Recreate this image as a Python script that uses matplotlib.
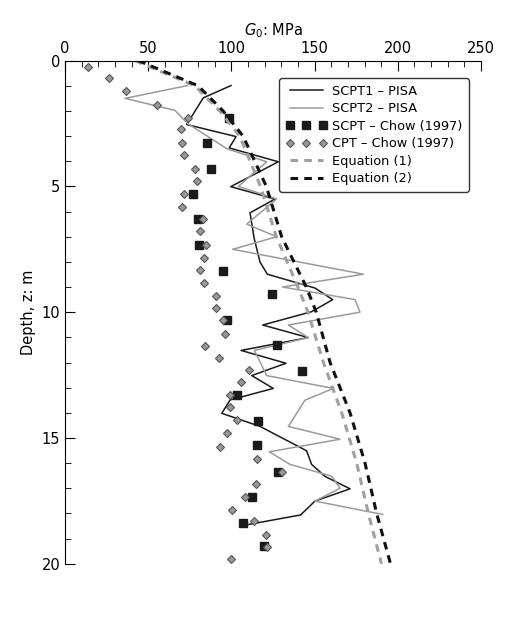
import matplotlib
matplotlib.use("Agg")
import matplotlib.pyplot as plt
from matplotlib.ticker import MultipleLocator

scpt1_g = [99.8, 83.1, 73.1, 102.8, 98.7, 128.2, 99.6, 126.2, 111.2, 113.6, 117.2, 121.6, 150.2, 160.9, 148.2,
           118.8, 146.2, 105.8, 132.8, 112.2, 125.2, 99.2, 94.2, 117.2, 145.2, 148.2, 156.3, 171.3, 150.2, 141.6, 105.2]
scpt1_z = [0.99, 1.48, 2.54, 3.02, 3.47, 4.02, 5.01, 5.5, 6.05, 7.04, 8.01, 8.49, 9.04, 9.5, 9.98,
           10.51, 11.01, 11.52, 12.03, 12.52, 13.03, 13.49, 14.02, 14.54, 15.51, 16.05, 16.53, 17.02, 17.51, 18.06, 18.5]

scpt2_g = [73.7, 36.1, 66.1, 73.7, 97.2, 121.2, 104.2, 127.2, 109.2, 127.2, 100.8, 179.3, 130.8, 174.3, 177.3,
           134.2, 146.2, 113.8, 121.2, 161.3, 144.2, 134.2, 165.3, 122.8, 135.2, 160.3, 165.3, 150.2, 190.9]
scpt2_z = [0.99, 1.5, 1.98, 2.5, 3.5, 4.02, 5.0, 5.5, 6.5, 7.0, 7.5, 8.49, 9.0, 9.5, 10.0,
           10.51, 11.01, 11.52, 12.52, 13.03, 13.5, 14.54, 15.05, 15.55, 16.05, 16.52, 17.0, 17.51, 18.04]

chow_scpt_g = [98.8, 85.1, 87.5, 76.7, 79.7, 80.7, 95.1, 124.6, 97.2, 127.2, 142.2, 103.2, 116.2, 115.6,
               128.2, 112.6, 106.8, 119.8]
chow_scpt_z = [2.3, 3.29, 4.31, 5.32, 6.29, 7.34, 8.35, 9.26, 10.31, 11.3, 12.34, 13.3, 14.33, 15.29,
               16.36, 17.35, 18.38, 19.28]

chow_cpt_g = [14.0, 26.4, 36.5, 55.5, 73.7, 69.5, 70.5, 71.5, 78.1, 79.1, 71.7, 70.1, 82.7, 81.1, 84.5, 83.5,
              81.1, 83.5, 90.7, 90.7, 95.1, 96.1, 84.1, 92.5, 110.4, 106.0, 99.2, 99.2, 103.6, 97.2, 93.2,
              115.2, 130.6, 114.6, 108.4, 100.5, 113.6, 120.8, 121.6, 99.8]
chow_cpt_z = [0.24, 0.69, 1.2, 1.76, 2.3, 2.72, 3.27, 3.76, 4.32, 4.78, 5.29, 5.8, 6.31, 6.78, 7.31, 7.83,
              8.34, 8.82, 9.34, 9.82, 10.31, 10.85, 11.34, 11.84, 12.28, 12.79, 13.3, 13.78, 14.3, 14.82, 15.35,
              15.84, 16.36, 16.84, 17.35, 17.87, 18.32, 18.86, 19.35, 19.8]

eq_z = [0, 1, 2, 3, 5, 7, 9, 10, 12, 14, 16, 18, 20]
eq1_g = [42, 78, 93, 105, 117.5, 127, 140, 146, 155.3, 166.3, 175.3, 182.3, 190.2]
eq2_g = [44, 80, 95, 107, 121, 130.2, 145, 151, 159.3, 171.3, 180.3, 187.3, 195.6]

fig = plt.figure(figsize=(5.2, 6.25), dpi=100)
ax = fig.add_axes([0.125, 0.098, 0.8, 0.805])

ax.plot(scpt1_g, scpt1_z, color="#1a1a1a", lw=1.1, label="SCPT1 – PISA")
ax.plot(scpt2_g, scpt2_z, color="#9a9a9a", lw=1.1, label="SCPT2 – PISA")
ax.plot(chow_scpt_g, chow_scpt_z, ls="none", marker="s", ms=5.5, color="#1a1a1a", label="SCPT – Chow (1997)")
ax.plot(chow_cpt_g, chow_cpt_z, ls="none", marker="D", ms=4.5, mfc="#999999", mec="#555555", mew=0.8,
        label="CPT – Chow (1997)")
ax.plot(eq1_g, eq_z, color="#a0a0a0", ls=(0, (2.5, 2)), lw=2.2, label="Equation (1)")
ax.plot(eq2_g, eq_z, color="#111111", ls=(0, (2.5, 2)), lw=2.2, label="Equation (2)")

ax.set_xlim(0, 250)
ax.set_ylim(20, 0)
ax.xaxis.set_major_locator(MultipleLocator(50))
ax.xaxis.set_minor_locator(MultipleLocator(10))
ax.yaxis.set_major_locator(MultipleLocator(5))
ax.yaxis.set_minor_locator(MultipleLocator(1))
ax.xaxis.tick_top()
ax.xaxis.set_label_position("top")
ax.tick_params(which="both", direction="in", labelsize=10.5)
ax.tick_params(which="major", length=7)
ax.tick_params(which="minor", length=4)
ax.spines["right"].set_visible(False)
ax.spines["bottom"].set_visible(False)
ax.set_xlabel("$G_0$: MPa", fontsize=10.5)
ax.set_ylabel("Depth, z: m", fontsize=10.5)

leg = ax.legend(loc="upper left", bbox_to_anchor=(0.515, 0.965), fontsize=9.3, frameon=True,
                fancybox=True, edgecolor="black", handlelength=3.2, numpoints=3,
                borderpad=0.5, labelspacing=0.35, handletextpad=0.4, borderaxespad=0)
leg.get_frame().set_linewidth(1.0)

fig.savefig("out.png", dpi=100)
